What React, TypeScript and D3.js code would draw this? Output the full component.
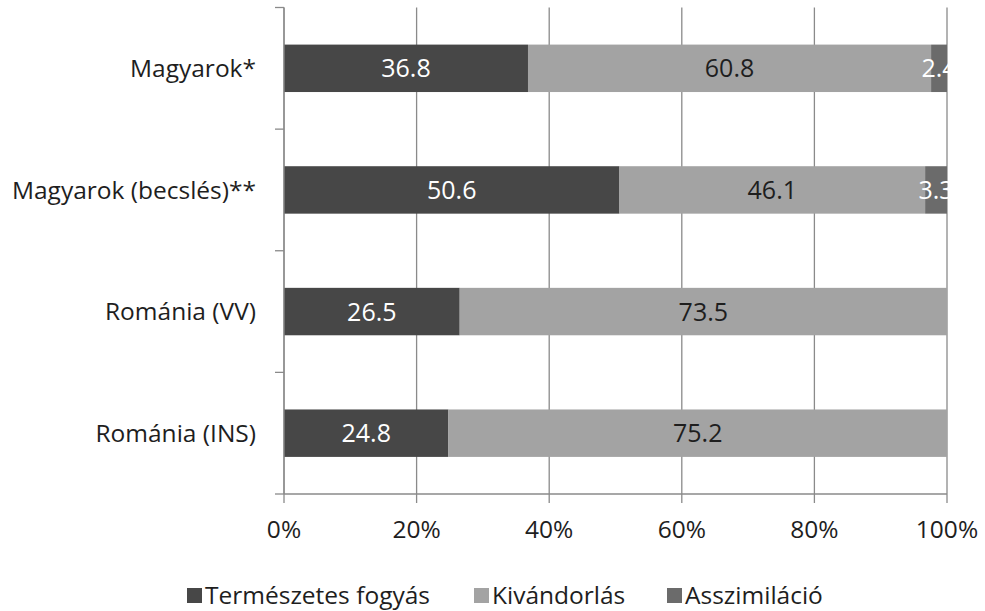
import React from 'react';
import * as d3 from 'd3';

// kategóriák és sorozatok (%)
const categories = ['Magyarok*', 'Magyarok (becslés)**', 'Románia (VV)', 'Románia (INS)'];
const seriesNames = ['Természetes fogyás', 'Kivándorlás', 'Asszimiláció'];
const termeszetes = [36.8, 50.6, 26.5, 24.8];
const kivandorlas = [60.8, 46.1, 73.5, 75.2];
const asszimilacio = [2.4, 3.3, 0, 0];
const xTicks = [0, 20, 40, 60, 80, 100];

const colors = ['#474747', '#a3a3a3', '#6b6b6b'];
const labelColors = ['#ffffff', '#1e1e1e', '#ffffff'];
const font = "'Open Sans', sans-serif";

export default function App() {
  const width = 985;
  const height = 611;
  const left = 284;
  const right = 947;
  const top = 7.5;
  const bottom = 494;

  const x = d3.scaleLinear().domain([0, 100]).range([left, right]);
  const y = d3.scaleBand().domain(categories).range([top, bottom]).paddingInner(0.61).paddingOuter(0.305);
  const yEdges = d3.range(categories.length + 1).map(i => top + (i * (bottom - top)) / categories.length);

  const rows = categories.map((c, i) => ({ c, vals: [termeszetes[i], kivandorlas[i], asszimilacio[i]] }));
  const stacked = d3.stack<{ c: string; vals: number[] }>()
    .keys(['0', '1', '2'])
    .value((d, k) => d.vals[+k])(rows);

  const legendX = [187, 474, 667];

  return (
    <svg width={width} height={height} style={{ position: 'absolute', left: 0, top: 0, background: '#fff' }}>
      <defs>
        <clipPath id="plot">
          <rect x={left} y={0} width={right - left + 1} height={bottom} />
        </clipPath>
      </defs>
      {/* rácsvonalak */}
      {xTicks.map(t => (
        <line key={t} x1={x(t)} x2={x(t)} y1={top} y2={bottom + 9} stroke="#8a8a8a" strokeWidth={1.3} />
      ))}
      {/* oszlopok */}
      {stacked.map((s, si) => (
        <g key={si}>
          {s.map((d, i) => d[1] - d[0] > 0 && (
            <rect key={i} x={x(d[0])} y={y(categories[i])!} width={x(d[1]) - x(d[0])} height={y.bandwidth()}
              fill={colors[si]} />
          ))}
        </g>
      ))}
      <g clipPath="url(#plot)">
        {stacked.map((s, si) => s.map((d, i) => d[1] - d[0] > 0 && (
          <text key={si + '-' + i} x={(x(d[0]) + x(d[1])) / 2} y={y(categories[i])! + y.bandwidth() / 2}
            dy="0.36em" textAnchor="middle" fontFamily={font} fontSize={25} fill={labelColors[si]}>
            {(d[1] - d[0]).toFixed(1)}
          </text>
        )))}
      </g>
      {/* y tengely */}
      <line x1={left} x2={left} y1={top} y2={bottom} stroke="#8a8a8a" strokeWidth={1.3} />
      {yEdges.map((v, i) => (
        <line key={i} x1={left - 9} x2={left} y1={v} y2={v} stroke="#8a8a8a" strokeWidth={1.3} />
      ))}
      {categories.map(c => (
        <text key={c} x={256} y={y(c)! + y.bandwidth() / 2} dy="0.36em" textAnchor="end"
          fontFamily={font} fontSize={24.5} fill="#1e1e1e">{c}</text>
      ))}
      {/* x tengely */}
      <line x1={left} x2={right} y1={bottom} y2={bottom} stroke="#8a8a8a" strokeWidth={1.3} />
      {xTicks.map(t => (
        <text key={t} x={x(t)} y={529} dy="0.36em" textAnchor="middle" fontFamily={font} fontSize={24.5} fill="#1e1e1e">
          {t}%
        </text>
      ))}
      {/* jelmagyarázat */}
      {seriesNames.map((n, i) => (
        <g key={n} transform={`translate(${legendX[i]},595.5)`}>
          <rect x={0} y={-7.5} width={15} height={15} fill={colors[i]} />
          <text x={18} dy="0.36em" fontFamily={font} fontSize={24.5} fill="#1e1e1e">{n}</text>
        </g>
      ))}
    </svg>
  );
}
